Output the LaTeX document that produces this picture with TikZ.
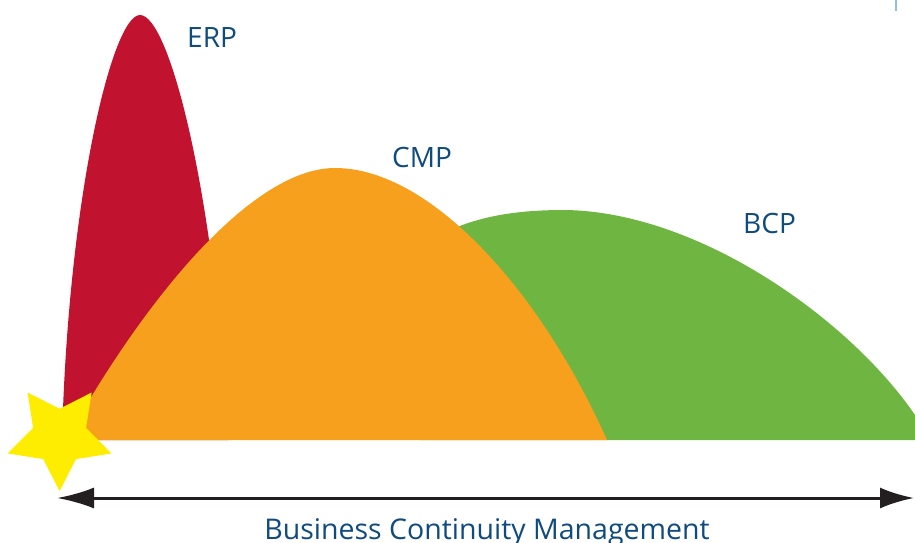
\documentclass[tikz,border=0pt]{standalone}
\usepackage{fontspec}
\setmainfont{Open Sans}
\usetikzlibrary{shapes.geometric,arrows.meta}
\definecolor{erpred}{RGB}{193,18,47}
\definecolor{cmporange}{RGB}{247,160,29}
\definecolor{bcpgreen}{RGB}{111,181,65}
\definecolor{staryellow}{RGB}{255,237,0}
\definecolor{bcmblue}{RGB}{16,75,128}
\definecolor{arrowgray}{RGB}{35,31,32}
\definecolor{edgeblue}{RGB}{150,190,225}

\begin{document}
\begin{tikzpicture}[x=1pt,y=-1pt,
    tag/.style={text=bcmblue,font=\fontsize{28}{30}\selectfont,anchor=base west,inner sep=0pt},
    crash/.style={star,star points=5,star point ratio=1.96,minimum size=109pt,
                  inner sep=0pt,outer sep=0pt,fill=staryellow,draw=none,rotate=180}]
\useasboundingbox (0,0) rectangle (915,543);
% phases
\fill[bcpgreen] (420,440) -- (428,242) .. controls (470,215) and (520,210) .. (565,210)
   .. controls (700,212) and (850,320) .. (915,415) -- (915,440) -- cycle;
\fill[erpred] (62,440) .. controls (68,200) and (112,15) .. (140,15)
   .. controls (170,15) and (216,200) .. (228,440) -- cycle;
\fill[cmporange] (66,440) .. controls (150,290) and (255,168) .. (335,168)
   .. controls (430,168) and (540,290) .. (607,440) -- cycle;
\draw[edgeblue,line width=2pt] (896,0) -- (896,11);
% incident
\node[crash] (incident) at (59.6,436.6) {};
% labels
\node[tag] (erp) at (187,48) {ERP};
\node[tag] (cmp) at (392,167) {CMP};
\node[tag] (bcp) at (743,233) {BCP};
% time line
\coordinate (start) at (57,498);
\coordinate (end) at (914,498);
\draw[arrowgray,line width=3pt,{Latex[length=37pt,width=21pt]}-{Latex[length=34pt,width=21pt]}] (start) -- (end);
\node[text=bcmblue,font=\fontsize{28.5}{30}\selectfont,anchor=base,inner sep=0pt] (bcm) at (487,539) {Business Continuity Management};
\end{tikzpicture}
\end{document}
